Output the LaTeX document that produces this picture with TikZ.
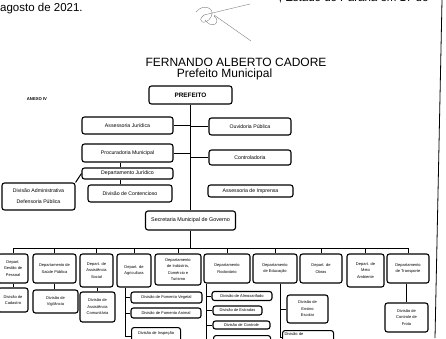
\documentclass[tikz,border=0pt]{standalone}
\usepackage{fontspec}
\setmainfont{Liberation Sans}
\begin{document}
\begin{tikzpicture}[x=1pt,y=-1pt,
	unit/.style = {draw, line width=1.1pt, rounded corners=2.5pt, align=center, inner sep=0.5pt, font=\fontsize{5.2}{7}\selectfont},
	dept/.style = {unit, font=\fontsize{4}{6.5}\selectfont},
	link/.style = {line width=1pt}]
	\useasboundingbox (0,0) rectangle (446,338);
	\clip (0,0) rectangle (446,338);
	% cabecalho
	\node[anchor=base east, font=\fontsize{11.5}{12}\selectfont] (linha) at (432,1.5) {, Estado do Paraná em 17 de};
	\node[anchor=base west, font=\fontsize{11.5}{12}\selectfont, inner sep=0pt] (data) at (0,11.5) {agosto de 2021.};
	\draw[gray, thin] (196,12) .. controls (203,3) and (216,8) .. (211,17) .. controls (206,26) and (195,22) .. (204,15) -- (250,4);
	\draw[gray, thin] (205,20) .. controls (212,30) and (222,22) .. (214,16);
	\draw[gray, thin] (214,15) -- (251,41);
	\node[anchor=base, font=\fontsize{12}{13}\selectfont, inner sep=0pt] (nome) at (236,66) {FERNANDO ALBERTO CADORE};
	\node[anchor=base, font=\fontsize{12}{13}\selectfont, inner sep=0pt] (cargo) at (224.5,77.5) {Prefeito Municipal};
	\node[font=\fontsize{4.2}{5}\selectfont\bfseries, inner sep=0pt] (anexo) at (37,99.5) {ANEXO IV};
	\draw[thick] (442,0) -- (435,338);
	% gabinete
	\node[unit, font=\fontsize{6.4}{7}\selectfont\bfseries, minimum width=83pt, minimum height=18pt] (pref) at (190.5,95) {PREFEITO};
	\node[unit, minimum width=91pt, minimum height=17pt] (asj) at (127.5,125.5) {Assessoria Jurídica};
	\node[unit, minimum width=82pt, minimum height=17pt] (ouv) at (250,126.5) {Ouvidoria Pública};
	\node[unit, minimum width=91pt, minimum height=18pt] (proc) at (127.5,153) {Procuradoria Municipal};
	\node[unit, minimum width=82pt, minimum height=15pt] (ctrl) at (250,157.5) {Controladoria};
	\node[unit, minimum width=91pt, minimum height=11pt] (depj) at (127.5,173.5) {Departamento Jurídico};
	\node[unit, minimum width=73pt, minimum height=27pt] (divadm) at (38.5,196.5) {Divisão Administrativa\\[4pt]Defensoria Pública};
	\node[unit, minimum width=84pt, minimum height=17pt] (cont) at (130,193.5) {Divisão de Contencioso};
	\node[unit, minimum width=85pt, minimum height=12pt] (impr) at (250.5,191) {Assessoria de Imprensa};
	\node[unit, font=\fontsize{5.4}{7}\selectfont, minimum width=90pt, minimum height=19pt] (sec) at (190.5,220.5) {Secretaria Municipal de Governo};
	\draw[link] (pref) -- (sec);
	\draw[link] (asj.east) -- (asj.east -| pref.south);
	\draw[link] (ouv.west) -- (ouv.west -| pref.south);
	\draw[link] (proc.east) -- (proc.east -| pref.south);
	\draw[link] (ctrl.west) -- (ctrl.west -| pref.south);
	\draw[link] ([xshift=-7.5pt]proc.south) -- ([xshift=-7.5pt]depj.north);
	\draw[link] ([xshift=-7.5pt]depj.south) -- ([xshift=-7.5pt]depj.south |- cont.north);
	\draw[link] (depj.west) -- (divadm.north east);
	% departamentos
	\node[dept, minimum width=30pt, minimum height=29pt] (d1) at (13,268.5) {Depart.\\Gestão de\\Pessoal};
	\node[dept, minimum width=43pt, minimum height=29pt] (d2) at (54.5,268.5) {Departamento de\\Saúde Pública};
	\node[dept, minimum width=33pt, minimum height=33pt] (d3) at (96.5,270.5) {Depart. de\\Assistência\\Social};
	\node[dept, minimum width=34pt, minimum height=33pt] (d4) at (134,270.5) {Depart. de\\Agricultura};
	\node[dept, minimum width=46pt, minimum height=31pt] (d5) at (178,269.5) {Departamento\\de Indústria,\\Comércio e\\Turismo};
	\node[dept, minimum width=46pt, minimum height=29pt] (d6) at (227,268.5) {Departamento\\Rodoviário};
	\node[dept, minimum width=44pt, minimum height=29pt] (d7) at (275,268.5) {Departamento\\de Educação};
	\node[dept, minimum width=42pt, minimum height=29pt] (d8) at (321,268.5) {Depart. de\\Obras};
	\node[dept, minimum width=37pt, minimum height=33pt] (d9) at (365.5,270.5) {Depart. de\\Meio\\Ambiente};
	\node[dept, minimum width=42pt, minimum height=29pt] (d10) at (408,268.5) {Departamento\\de Transporte};
	\coordinate (barra) at (190.5,248);
	\draw[link] (sec) -- (barra);
	\draw[link] (d1.north |- barra) -- (d10.north |- barra);
	\foreach \d in {d1,d2,d3,d4,d5,d6,d7,d8,d9,d10}
		\draw[link] (\d.north |- barra) -- (\d.north);
	% divisoes
	\node[dept, minimum width=30pt, minimum height=24pt] (s1) at (13,300) {Divisão de\\Cadastro};
	\node[dept, minimum width=45pt, minimum height=23pt] (s2) at (55.5,301.5) {Divisão de\\Vigilância};
	\node[dept, minimum width=35pt, minimum height=30pt] (s3) at (97.5,307) {Divisão de\\Assistência\\Comunitária};
	\node[dept, minimum width=71pt, minimum height=11pt] (fv) at (166.5,297.5) {Divisão de Fomento Vegetal};
	\node[dept, minimum width=70pt, minimum height=10pt] (fa) at (166,313) {Divisão de Fomento Animal};
	\node[dept, anchor=north west, minimum width=49pt, minimum height=18pt] (fi) at (131,327) {Divisão de Inspeção\\\phantom{x}};
	\node[dept, minimum width=60pt, minimum height=9pt] (ra) at (242,296) {Divisão de Almoxarifado};
	\node[dept, minimum width=49pt, minimum height=9pt] (re) at (237.5,310.5) {Divisão de Estradas};
	\node[dept, minimum width=57pt, minimum height=8pt] (rc) at (241.5,325) {Divisão de Controle};
	\node[dept, anchor=north west, minimum width=57pt, minimum height=12pt] (rx) at (213,335) {};
	\node[dept, minimum width=41pt, minimum height=28pt] (ee) at (307.5,309) {Divisão de\\Ensino\\Escolar};
	\node[dept, anchor=north west, minimum width=51pt, minimum height=14pt, text width=47pt, align=left] (ed) at (282,330) {Divisão de\\\phantom{x}};
	\node[dept, minimum width=43pt, minimum height=29pt] (tr) at (406.5,317.5) {Divisão de\\Controle de\\Frota};
	\draw[link] (s1.north |- d1.south) -- (s1.north);
	\draw[link] (d2.south) -- (d2.south |- s2.north);
	\draw[link] (s3.north |- d3.south) -- (s3.north);
	\draw[link] ([xshift=9pt]d4.south west) |- (fv.west);
	\draw[link] ([xshift=9pt]d4.south west) |- (fa.west);
	\draw[link] ([xshift=9pt]d4.south west) |- (fi.west);
	\draw[link] ([xshift=3pt]d6.south west) |- (ra.west);
	\draw[link] ([xshift=3pt]d6.south west) |- (re.west);
	\draw[link] ([xshift=3pt]d6.south west) |- (rc.west);
	\draw[link] ([xshift=3pt]d6.south west) |- (rx.west);
	\draw[link] ([xshift=5pt]d7.south) |- (ee.west);
	\draw[link] ([xshift=5pt]d7.south) |- (ed.west);
	\draw[link] (tr.north |- d10.south) -- (tr.north);
\end{tikzpicture}
\end{document}
